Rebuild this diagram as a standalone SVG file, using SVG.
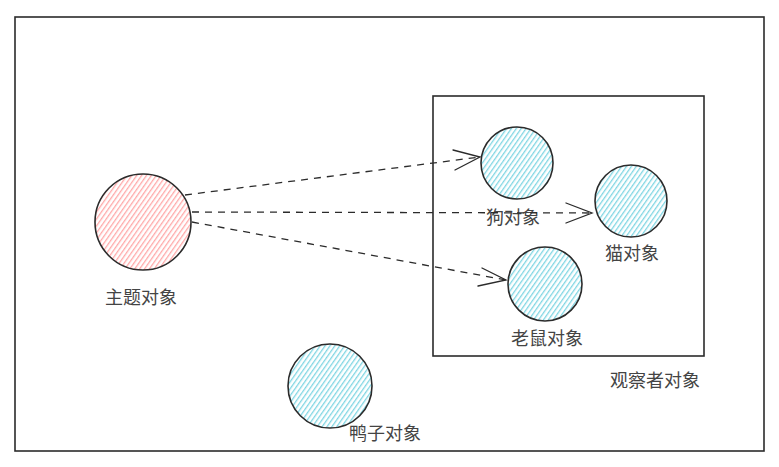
<svg xmlns="http://www.w3.org/2000/svg" width="779" height="467" viewBox="0 0 779 467">
<style>
.frame{fill:none;stroke:#2b2b2b;stroke-width:1.6}
.node{stroke:#2b2b2b;stroke-width:1.6}
.pink{fill:url(#hPink)}
.cyan{fill:url(#hCyan)}
.lbl{font-family:"Noto Sans CJK SC","Noto Sans",sans-serif;font-size:18px;fill:#444;text-anchor:middle}
.conn{fill:none;stroke:#2b2b2b;stroke-width:1.3;stroke-dasharray:7 6}
.head{fill:none;stroke:#2b2b2b;stroke-width:1.3;stroke-linecap:round}
</style>
<defs>
<pattern id="hPink" patternUnits="userSpaceOnUse" width="4" height="4" patternTransform="rotate(35)">
<rect width="4" height="4" fill="#fff"/>
<line x1="0" y1="0" x2="0" y2="4" stroke="#ffa8a8" stroke-width="2.6"/>
</pattern>
<pattern id="hCyan" patternUnits="userSpaceOnUse" width="4" height="4" patternTransform="rotate(35)">
<rect width="4" height="4" fill="#fff"/>
<line x1="0" y1="0" x2="0" y2="4" stroke="#7fd6e3" stroke-width="2.6"/>
</pattern>
</defs>
<rect class="frame" x="15" y="17" width="749" height="434"/>
<g id="observer">
<rect class="frame" x="433" y="96" width="271" height="260"/>
<text class="lbl" x="655" y="387">观察者对象</text>
</g>
<g id="subject">
<circle class="node pink" cx="143" cy="222" r="48"/>
<text class="lbl" x="141" y="304">主题对象</text>
</g>
<g id="dog">
<circle class="node cyan" cx="517" cy="163" r="36"/>
<text class="lbl" x="513" y="224">狗对象</text>
</g>
<g id="cat">
<circle class="node cyan" cx="631" cy="201" r="36"/>
<text class="lbl" x="632" y="260">猫对象</text>
</g>
<g id="mouse">
<circle class="node cyan" cx="545" cy="284" r="37"/>
<text class="lbl" x="547" y="345">老鼠对象</text>
</g>
<g id="duck">
<circle class="node cyan" cx="330" cy="386" r="42"/>
<text class="lbl" x="385" y="440">鸭子对象</text>
</g>
<g id="connectors">
<path class="conn" d="M185 195 L480 157"/>
<path class="head" d="M453 150 L480 157 L455 170"/>
<path class="conn" d="M192 212 L592 213"/>
<path class="head" d="M566 203 L592 213 L566 223"/>
<path class="conn" d="M192 222 L506 280"/>
<path class="head" d="M482 268 L506 280 L478 286"/>
</g>
</svg>
